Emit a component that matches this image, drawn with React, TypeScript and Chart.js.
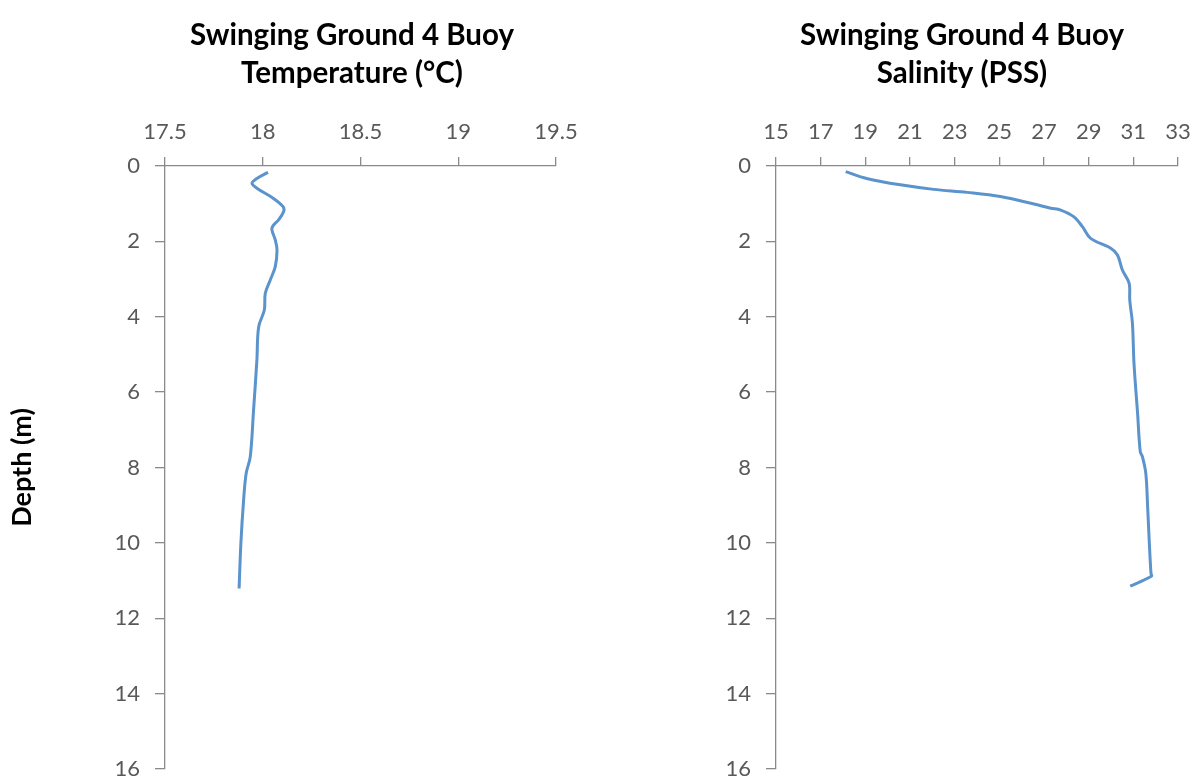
import React, { useEffect, useRef } from 'react';
import { Chart, registerables } from 'chart.js';

Chart.register(...registerables);

// ---- Data ----
const tempDepths = [0.17, 0.33, 0.46, 0.59, 0.86, 1.08, 1.21, 1.43, 1.59, 1.7, 1.96, 2.23, 2.67, 3.03, 3.38, 3.82, 4.27, 5.15, 6.48, 7.72, 8.16, 8.87, 10.02, 11.21];
const tempValues = [18.027, 17.97, 17.945, 17.97, 18.055, 18.104, 18.107, 18.081, 18.052, 18.047, 18.064, 18.073, 18.064, 18.038, 18.013, 18.008, 17.979, 17.97, 17.953, 17.936, 17.915, 17.902, 17.888, 17.879];

const salDepths = [0.15, 0.33, 0.5, 0.62, 0.7, 0.81, 1.01, 1.12, 1.17, 1.35, 1.61, 1.92, 2.18, 2.36, 2.76, 3.11, 3.56, 4.18, 5.24, 6.56, 7.58, 7.72, 8.16, 9.04, 9.93, 10.81, 10.88, 11.15];
const salValues = [18.12, 19.06, 20.57, 22.06, 23.56, 25.05, 26.55, 27.3, 27.75, 28.34, 28.72, 29.09, 29.99, 30.29, 30.51, 30.81, 30.84, 30.96, 31.03, 31.19, 31.31, 31.41, 31.56, 31.64, 31.71, 31.79, 31.82, 30.86];

const tempAxis = [17.5, 19.5, 0.5]; // min, max, step
const salAxis = [15, 33, 2];
const depthAxis = [0, 16, 2];

const tempTitle = ['Swinging Ground 4 Buoy', 'Temperature (°C)'];
const salTitle = ['Swinging Ground 4 Buoy', 'Salinity (PSS)'];
const depthLabel = 'Depth (m)';

const FONT = 'Lato, "Open Sans", "Noto Sans", sans-serif';
const AXIS_COLOR = '#8a8a8a';
const TICK_COLOR = '#595959';
const LINE_COLOR = '#5b93cc';

type Props = {
  left: number;
  width: number;
  title: string[];
  xs: number[];
  ys: number[];
  xAxis: number[];
  yLabel?: string;
  leftWidth: number;
  rightWidth: number;
};

const TITLE_SIZE = 29.5;
const TITLE_LH = 1.29;
const TITLE_PAD_TOP = 16;
const TITLE_PAD_BOTTOM = 10;
const PLOT_TOP = 166;
const PLOT_BOTTOM = 769;
const H = 780;

function ProfileChart({ left, width, title, xs, ys, xAxis, yLabel, leftWidth, rightWidth }: Props) {
  const ref = useRef<HTMLCanvasElement | null>(null);
  useEffect(() => {
    if (!ref.current) return;
    const titleH = TITLE_PAD_TOP + TITLE_PAD_BOTTOM + title.length * TITLE_SIZE * TITLE_LH;
    const xHeight = PLOT_TOP - titleH;
    const chart = new Chart(ref.current, {
      type: 'scatter',
      data: {
        datasets: [
          {
            data: xs.map((v, i) => ({ x: v, y: ys[i] })),
            showLine: true,
            borderColor: LINE_COLOR,
            backgroundColor: LINE_COLOR,
            borderWidth: 3,
            pointRadius: 0,
            tension: 0.35,
            yAxisID: 'y',
            xAxisID: 'x',
          },
        ],
      },
      options: {
        responsive: false,
        animation: false,
        devicePixelRatio: 1,
        layout: { padding: { left: 0, right: 0, top: 0, bottom: H - PLOT_BOTTOM } },
        plugins: {
          legend: { display: false },
          tooltip: { enabled: false },
          title: {
            display: true,
            text: title,
            color: '#000000',
            font: { family: FONT, size: TITLE_SIZE, weight: 'bold', lineHeight: TITLE_LH },
            padding: { top: TITLE_PAD_TOP, bottom: TITLE_PAD_BOTTOM },
          },
        },
        scales: {
          x: {
            type: 'linear',
            position: 'top',
            min: xAxis[0],
            max: xAxis[1],
            ticks: {
              stepSize: xAxis[2],
              color: TICK_COLOR,
              font: { family: FONT, size: 22 },
              padding: 12,
              maxRotation: 0,
              autoSkip: false,
              callback: (v: any) => String(Number(v)),
            },
            grid: { drawOnChartArea: false, drawTicks: true, tickLength: 9, color: AXIS_COLOR, lineWidth: 1.3 },
            border: { display: true, color: AXIS_COLOR, width: 1.3 },
            afterFit: (s: any) => {
              s.height = xHeight;
              s.paddingLeft = 0;
              s.paddingRight = 0;
            },
          },
          y: {
            type: 'linear',
            position: 'left',
            reverse: true,
            min: depthAxis[0],
            max: depthAxis[1],
            ticks: {
              stepSize: depthAxis[2],
              color: TICK_COLOR,
              font: { family: FONT, size: 22 },
              padding: 15,
              autoSkip: false,
              callback: (v: any) => String(Number(v)),
            },
            grid: { drawOnChartArea: false, drawTicks: true, tickLength: 10, color: AXIS_COLOR, lineWidth: 1.3 },
            border: { display: true, color: AXIS_COLOR, width: 1.3 },
            title: {
              display: !!yLabel,
              text: yLabel || '',
              color: '#000000',
              font: { family: FONT, size: 27, weight: 'bold', lineHeight: 1.2 },
              padding: { top: 6, bottom: 0 },
            },
            afterFit: (s: any) => {
              s.width = leftWidth;
              s.paddingTop = 0;
              s.paddingBottom = 0;
            },
          },
          yr: {
            type: 'linear',
            position: 'right',
            min: 0,
            max: 1,
            display: true,
            ticks: { display: false },
            grid: { display: false },
            border: { display: false },
            afterFit: (s: any) => {
              s.width = rightWidth;
              s.paddingTop = 0;
              s.paddingBottom = 0;
            },
          },
        },
      },
    } as any);
    return () => chart.destroy();
  }, []);
  return (
    <canvas
      ref={ref}
      width={width}
      height={H}
      style={{ position: 'absolute', left, top: 0, width, height: H }}
    />
  );
}

export default function App() {
  return (
    <div style={{ position: 'absolute', left: 0, top: 0, width: 1200, height: H, background: '#ffffff', overflow: 'hidden' }}>
      <ProfileChart
        left={0}
        width={704}
        title={tempTitle}
        xs={tempValues}
        ys={tempDepths}
        xAxis={tempAxis}
        yLabel={depthLabel}
        leftWidth={165}
        rightWidth={704 - 556}
      />
      <ProfileChart
        left={724}
        width={476}
        title={salTitle}
        xs={salValues}
        ys={salDepths}
        xAxis={salAxis}
        leftWidth={776 - 724}
        rightWidth={1200 - 1178}
      />
    </div>
  );
}
